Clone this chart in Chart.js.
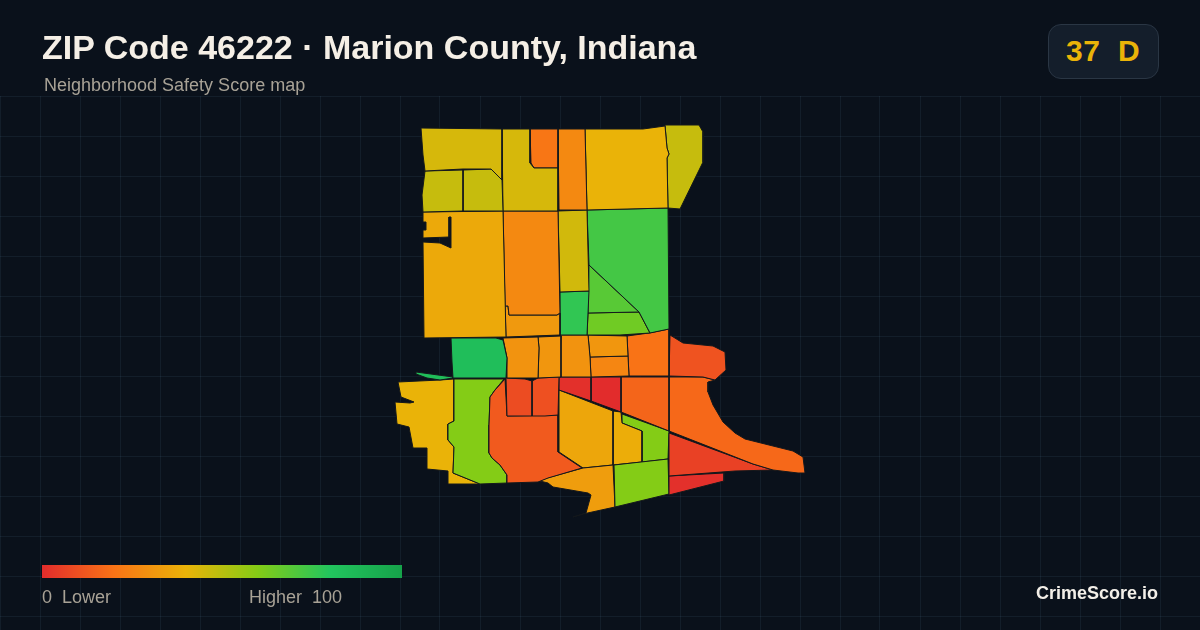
<!DOCTYPE html>
<html>
<head>
<meta charset="utf-8">
<script src="https://cdn.jsdelivr.net/npm/chart.js@4/dist/chart.umd.min.js"></script>
<style>
  html, body { margin: 0; padding: 0; width: 1200px; height: 630px; overflow: hidden; background: #0a111b; font-family: "Liberation Sans", Arial, sans-serif; }
  #map-wrap { position: absolute; left: 0; top: 0; width: 1200px; height: 630px; }
  .label { position: absolute; white-space: pre; line-height: 1; }
  #title { left: 42px; top: 30px; font-size: 34px; font-weight: 700; color: #f5efe6; }
  #subtitle { left: 44px; top: 76px; font-size: 18px; color: #a8a296; }
  #badge { position: absolute; left: 1048px; top: 24px; width: 109px; height: 53px; border-radius: 13px; background: #141e2b; border: 1px solid #2a3644; }
  #grade { left: 1066px; top: 36px; font-size: 30px; font-weight: 700; letter-spacing: 0.5px; color: #eab308; }
  #scale-bar { position: absolute; left: 42px; top: 565px; width: 360px; height: 13px; }
  #scale-low { left: 42px; top: 588px; font-size: 18px; color: #a8a296; }
  #scale-high { left: 249px; top: 588px; font-size: 18px; color: #a8a296; }
  #brand { right: 42px; top: 584px; font-size: 18px; font-weight: 700; color: #f3efe8; }
</style>
</head>
<body>
<div id="map-wrap"><canvas id="map" width="1200" height="630"></canvas></div>
<div class="label" id="title"></div>
<div class="label" id="subtitle"></div>
<div id="badge"></div>
<div class="label" id="grade"></div>
<div id="scale-bar"></div>
<div class="label" id="scale-low"></div>
<div class="label" id="scale-high"></div>
<div class="label" id="brand"></div>
<script>
const titleText = 'ZIP Code 46222 · Marion County, Indiana';
const subtitleText = 'Neighborhood Safety Score map';
const gradeText = '37  D';
const scaleLowText = '0  Lower';
const scaleHighText = 'Higher  100';
const brandText = 'CrimeScore.io';

const xTicks = [0, 40, 80, 120, 160, 200, 240, 280, 320, 360, 400, 440, 480, 520, 560, 600, 640, 680, 720, 760, 800, 840, 880, 920, 960, 1000, 1040, 1080, 1120, 1160, 1200];
const yTicks = [96, 136, 176, 216, 256, 296, 336, 376, 416, 456, 496, 536, 576, 616];

const scaleStops = [0, 20, 40, 60, 80, 100];
const scaleColors = [[226, 44, 44], [249, 115, 22], [234, 179, 8], [132, 204, 22], [34, 197, 94], [22, 163, 74]];

// one score per tract, same order as tractOutlines
const tractScores = [
  44, 47, 47, 44, 21, 27, 40, 47,
  37, 27, 32, 45, 77, 73, 69, 64,
  84, 84, 30, 31, 30, 31, 26, 20, 11,
  9, 10, 13, 60, 40,
  1, 0, 16, 17, 6, 1, 60, 33, 36, 38, 60,
];

// map units
const tractOutlines = [
  [[421,128],[502,129],[502,180],[491,169],[463,169],[425,171],[423,155]],
  [[425,171],[463,170],[463,211],[423,212],[422,195]],
  [[463,170],[491,169],[502,180],[503,211],[463,211]],
  [[502,129],[530,129],[530,163],[534,168],[558,168],[558,211],[503,211]],
  [[530,129],[558,129],[558,168],[534,168],[531,163]],
  [[558,129],[585,129],[587,210],[559,210]],
  [[585,129],[643,129],[665,126],[667,148],[669,154],[667,158],[668,208],[587,210]],
  [[665,125],[699,125],[703,132],[703,162],[680,209],[668,208],[667,158],[669,154],[667,148]],

  [[423,212],[503,211],[506,337],[424,338],[423,242],[440,243],[451,248],[451,217],[449,217],[449,237],[423,238],[423,230],[426,230],[426,222],[423,222]],
  [[503,211],[558,211],[560,313],[557,315],[509,315],[508,306],[505,306]],
  [[505,306],[508,306],[509,315],[557,315],[560,313],[560,335],[506,337]],
  [[558,211],[587,210],[589,291],[560,292]],
  [[560,292],[589,291],[587,335],[560,335]],
  [[587,210],[668,208],[669,329],[650,333],[639,312],[589,265]],
  [[589,265],[639,312],[588,313]],
  [[588,313],[639,312],[650,333],[620,335],[587,335]],

  [[451,338],[496,338],[503,340],[507,358],[506,378],[453,378],[452,362]],
  [[416,372],[453,377],[453,378],[440,380],[427,378],[416,374]],
  [[503,338],[538,337],[539,348],[538,378],[507,378],[507,358]],
  [[538,337],[561,336],[561,377],[538,378],[539,348]],
  [[561,335],[588,335],[590,357],[591,377],[559,377]],
  [[588,335],[627,336],[628,356],[590,357]],
  [[590,357],[628,356],[629,376],[591,377]],
  [[627,336],[649,333],[669,329],[669,376],[629,376],[628,356]],
  [[670,335],[683,343],[713,346],[725,352],[726,370],[715,380],[703,377],[669,376]],

  [[506,378],[525,379],[532,381],[532,416],[507,416]],
  [[532,381],[538,378],[559,377],[558,415],[545,416],[532,416]],
  [[505,379],[507,416],[558,415],[558,452],[582,468],[548,478],[538,482],[507,483],[507,475],[500,465],[492,458],[489,453],[489,425],[490,397],[495,390]],
  [[454,379],[504,379],[495,390],[490,397],[489,425],[489,453],[492,458],[500,465],[507,475],[507,483],[480,484],[453,473],[454,447],[448,440],[448,424],[454,421]],
  [[398,382],[440,380],[454,379],[454,421],[448,424],[448,440],[454,447],[453,473],[480,484],[448,484],[448,471],[427,469],[427,448],[413,448],[409,427],[397,424],[395,402],[410,403],[414,402],[401,397]],

  [[559,377],[591,377],[591,401],[559,390]],
  [[591,377],[621,377],[621,412],[591,401]],
  [[621,377],[669,377],[669,431],[621,412]],
  [[669,377],[703,377],[715,380],[708,382],[708,392],[713,405],[723,422],[735,433],[745,439],[773,446],[793,451],[803,457],[805,473],[798,473],[773,470],[753,464],[669,431]],
  [[669,433],[753,464],[773,470],[735,471],[669,476]],
  [[669,476],[724,473],[724,481],[669,495]],
  [[614,465],[668,459],[669,494],[615,507]],
  [[540,481],[547,478],[583,468],[613,465],[615,507],[583,514],[573,517],[586,513],[591,495],[588,493],[553,487],[548,483]],
  [[559,390],[613,411],[613,465],[583,468],[559,452]],
  [[613,411],[621,412],[622,423],[642,431],[642,462],[613,465]],
  [[622,414],[669,431],[668,459],[642,462],[642,431],[622,423]],
];

function scoreColor(score) {
  let i = 0;
  while (i < scaleStops.length - 2 && score > scaleStops[i + 1]) i++;
  const t = (score - scaleStops[i]) / (scaleStops[i + 1] - scaleStops[i]);
  const rgb = scaleColors[i].map((c, k) => Math.round(c + (scaleColors[i + 1][k] - c) * t));
  return `rgb(${rgb[0]},${rgb[1]},${rgb[2]})`;
}

document.getElementById('title').textContent = titleText;
document.getElementById('subtitle').textContent = subtitleText;
document.getElementById('grade').textContent = gradeText;
document.getElementById('scale-low').textContent = scaleLowText;
document.getElementById('scale-high').textContent = scaleHighText;
document.getElementById('brand').textContent = brandText;
document.getElementById('scale-bar').style.background = 'linear-gradient(to right,' +
  scaleStops.map((s, i) => `rgb(${scaleColors[i].join(',')}) ${s}%`).join(',') + ')';

const datasets = tractOutlines.map((outline, i) => ({
  data: outline.concat([outline[0]]).map(p => ({ x: p[0], y: p[1] })),
  showLine: true,
  fill: 'shape',
  tension: 0,
  pointRadius: 0,
  borderWidth: 1,
  borderColor: '#14181c',
  backgroundColor: scoreColor(tractScores[i]),
}));

new Chart(document.getElementById('map').getContext('2d'), {
  type: 'scatter',
  data: { datasets: datasets },
  options: {
    responsive: false,
    animation: false,
    events: [],
    layout: { padding: { top: 96 } },
    plugins: { legend: { display: false }, tooltip: { enabled: false }, title: { display: false } },
    scales: {
      x: {
        type: 'linear', min: 0, max: 1200,
        afterBuildTicks: axis => { axis.ticks = xTicks.map(v => ({ value: v })); },
        ticks: { display: false },
        border: { display: false },
        grid: { color: 'rgba(110,170,200,0.09)', lineWidth: 1, drawTicks: false },
      },
      y: {
        type: 'linear', min: 96, max: 630, reverse: true,
        afterBuildTicks: axis => { axis.ticks = yTicks.map(v => ({ value: v })); },
        ticks: { display: false },
        border: { display: false },
        grid: { color: 'rgba(110,170,200,0.09)', lineWidth: 1, drawTicks: false },
      },
    },
  },
});
</script>
</body>
</html>
